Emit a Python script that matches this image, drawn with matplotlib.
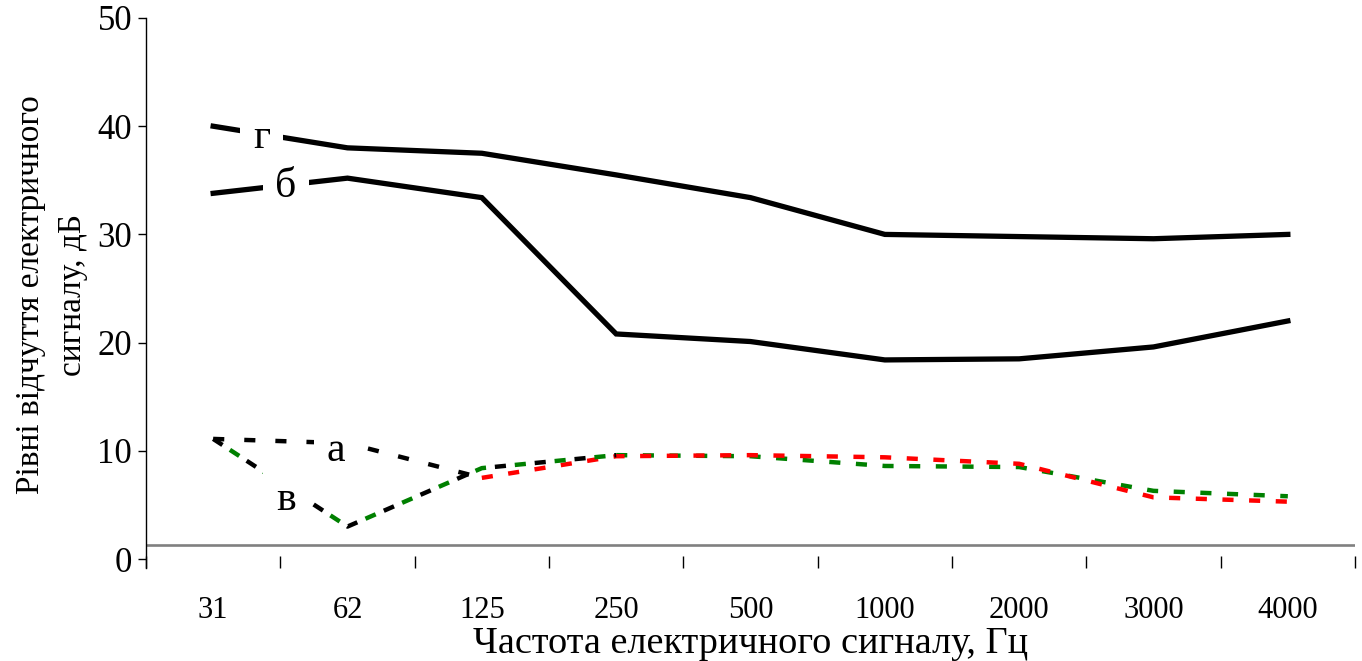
import matplotlib
matplotlib.use('Agg')
import matplotlib.pyplot as plt

# Frequencies (category axis) and threshold levels, dB
freqs = ['31', '62', '125', '250', '500', '1000', '2000', '3000', '4000']
level_g = [40.0, 38.0, 37.5, 35.5, 33.4, 30.0, 29.8, 29.6, 30.0]
level_b = [33.8, 35.2, 33.4, 20.8, 20.1, 18.4, 18.5, 19.6, 22.0]
level_a = [11.1, 10.7, 7.5, 9.5, 9.6, 9.4, 8.8, 5.7, 5.3]
level_v = [11.1, 3.0, 8.4, 9.6, 9.5, 8.6, 8.5, 6.3, 5.8]

plt.rcParams['font.family'] = ['Liberation Serif', 'DejaVu Serif']

fig = plt.figure(figsize=(13.62, 6.61), dpi=100)
ax = fig.add_axes([146 / 1362, 1 - 568 / 661, (1355 - 146) / 1362, (568 - 18) / 661])

x = list(range(len(freqs)))

# solid curves
ax.plot(x, level_g, color='black', lw=3.8, solid_joinstyle='miter', zorder=3)
ax.plot(x, level_b, color='black', lw=3.8, solid_joinstyle='miter', zorder=3)

# dashed curves: black start, coloured remainder
ax.plot(x[:3], level_a[:3], color='black', lw=3.2, linestyle=(0, (2.5, 4.5)), zorder=3)
ax.plot(x[2:], level_a[2:], color='red', lw=3.2, linestyle=(0, (2.5, 3.5)), zorder=3)
ax.plot(x[:4], level_v[:4], color='black', lw=3.2, linestyle=(0, (2.5, 6.5)), zorder=3)
ax.plot(x[:4], level_v[:4], color='green', lw=3.2, linestyle=(4.5, (2.5, 6.5)), zorder=3)
ax.plot(x[3:], level_v[3:], color='green', lw=3.2, linestyle=(0, (2.5, 3.5)), zorder=2)

# curve labels on white boxes
box = dict(facecolor='white', edgecolor='none', pad=9)
ax.text(0.36, 38.9, 'г', fontsize=30, ha='center', va='center', bbox=box, zorder=5)
ax.text(0.54, 34.4, 'б', fontsize=30, ha='center', va='center', bbox=box, zorder=5)
ax.text(0.91, 10.0, 'а', fontsize=30, ha='center', va='center', bbox=box, zorder=5)
ax.text(0.54, 5.5, 'в', fontsize=30, ha='center', va='center', bbox=box, zorder=5)

# grey baseline
ax.axhline(1.3, color='#808080', lw=1.9, zorder=1)

ax.set_xlim(-0.5, len(freqs) - 0.5)
ax.set_ylim(-0.83, 50)
ax.set_yticks(range(0, 51, 10))
ax.tick_params(axis='y', direction='out', length=6, width=1, labelsize=25, pad=4)

ax.set_xticks(x)
ax.set_xticklabels(freqs)
ax.set_xticks([i - 0.5 for i in range(len(freqs) + 1)], minor=True)
ax.tick_params(axis='x', which='major', length=0, labelsize=22, pad=20)
ax.tick_params(axis='x', which='minor', direction='in', length=9, width=1)

for side in ['top', 'right', 'bottom']:
    ax.spines[side].set_visible(False)
ax.spines['left'].set_linewidth(1)

ax.set_xlabel('Частота електричного сигналу, Гц', fontsize=27.5, labelpad=1)
fig.text(52 / 1362, 1 - 295 / 661, 'Рівні відчуття електричного\nсигналу, дБ',
         rotation=90, ha='center', va='center', multialignment='center',
         fontsize=24, linespacing=1.5)

fig.savefig('out.png', dpi=100)
